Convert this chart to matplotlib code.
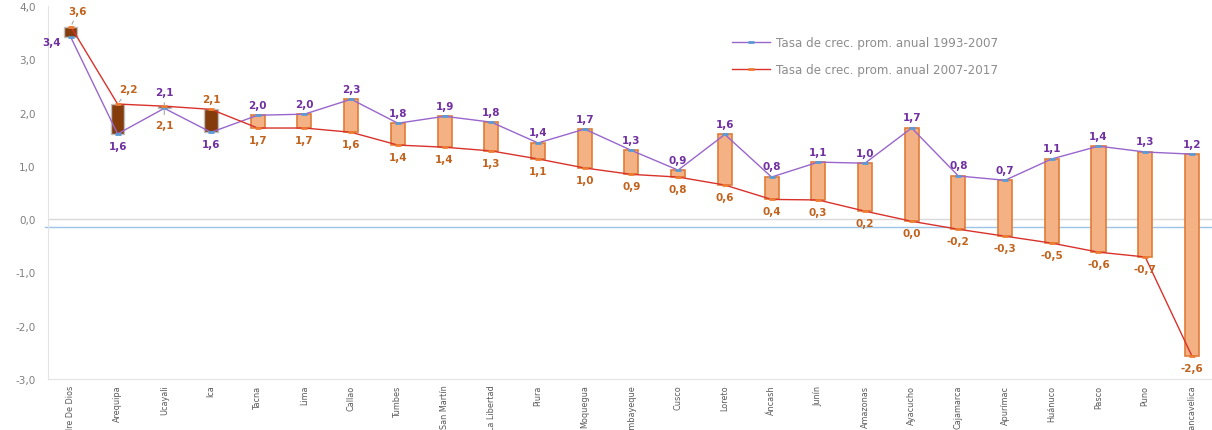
import matplotlib.pyplot as plt
import numpy as np

# datos
regiones = ['Madre De Dios', 'Arequipa', 'Ucayali', 'Ica', 'Tacna', 'Lima', 'Callao',
            'Tumbes', 'San Martín', 'La Libertad', 'Piura', 'Moquegua', 'Lambayeque',
            'Cusco', 'Loreto', 'Áncash', 'Junín', 'Amazonas', 'Ayacucho', 'Cajamarca',
            'Apurímac', 'Huánuco', 'Pasco', 'Puno', 'Huancavelica']
tasa_93_07 = [3.41, 1.60, 2.08, 1.63, 1.95, 1.97, 2.25, 1.80, 1.93, 1.82, 1.43, 1.69, 1.29,
              0.92, 1.59, 0.79, 1.07, 1.05, 1.71, 0.81, 0.73, 1.13, 1.37, 1.26, 1.22]
tasa_07_17 = [3.61, 2.16, 2.12, 2.06, 1.71, 1.71, 1.63, 1.39, 1.35, 1.28, 1.13, 0.96, 0.84,
              0.79, 0.64, 0.37, 0.36, 0.15, -0.04, -0.19, -0.32, -0.45, -0.62, -0.71, -2.57]
etq_93_07 = ['3,4', '1,6', '2,1', '1,6', '2,0', '2,0', '2,3', '1,8', '1,9', '1,8', '1,4', '1,7', '1,3',
             '0,9', '1,6', '0,8', '1,1', '1,0', '1,7', '0,8', '0,7', '1,1', '1,4', '1,3', '1,2']
etq_07_17 = ['3,6', '2,2', '2,1', '2,1', '1,7', '1,7', '1,6', '1,4', '1,4', '1,3', '1,1', '1,0', '0,9',
             '0,8', '0,6', '0,4', '0,3', '0,2', '0,0', '-0,2', '-0,3', '-0,5', '-0,6', '-0,7', '-2,6']

c_morado = '#9966CC'
c_rojo = '#D9322B'
c_txt_morado = '#7030A0'
c_txt_cafe = '#C0631E'

x = np.arange(len(regiones))
a = np.array(tasa_93_07)
b = np.array(tasa_07_17)

fig = plt.figure(figsize=(12.12, 4.31), dpi=100)
ax = fig.add_axes([48 / 1212, 1 - 380 / 431, 1 - 48 / 1212, (380 - 7) / 431])

# barras arriba/abajo
sube = b > a
for i in x:
    if sube[i]:
        ax.bar(i, b[i] - a[i], bottom=a[i], width=0.28, color='#843C0C',
               edgecolor='#BFBFBF', linewidth=1, zorder=2)
    else:
        ax.bar(i, b[i] - a[i], bottom=a[i], width=0.3, color='#F4B183',
               edgecolor='#E07B39', linewidth=1.2, zorder=2)

ax.plot(x, a, color=c_morado, lw=1, marker='_', ms=5, mec='#5B9BD5', mew=2,
        label='Tasa de crec. prom. anual 1993-2007', zorder=3)
ax.plot(x, b, color=c_rojo, lw=1, marker='_', ms=5, mec='#ED7D31', mew=2,
        label='Tasa de crec. prom. anual 2007-2017', zorder=3)

# etiquetas
especiales = {
    0: [((-7, -3), 'right', 'center', False), ((5, 8), 'center', 'bottom', True)],
    1: [((0, -5), 'center', 'top', False), ((8, 7), 'center', 'bottom', True)],
    2: [((0, 8), 'center', 'bottom', True), ((0, -10), 'center', 'top', True)],
}
for i in x:
    if i in especiales:
        (oa, ha_a, va_a, la), (ob, ha_b, va_b, lb) = especiales[i]
    else:
        arriba_a = a[i] >= b[i]
        oa = (0, 4) if arriba_a else (0, -5)
        va_a = 'bottom' if arriba_a else 'top'
        ob = (0, -5) if arriba_a else (0, 4)
        va_b = 'top' if arriba_a else 'bottom'
        ha_a = ha_b = 'center'
        la = lb = False
    ax.annotate(etq_93_07[i], (i, a[i]), xytext=oa, textcoords='offset points',
                ha=ha_a, va=va_a, color=c_txt_morado, fontsize=7.5, fontweight='bold',
                arrowprops=dict(arrowstyle='-', color='#A6A6A6', lw=0.8) if la else None, zorder=4)
    ax.annotate(etq_07_17[i], (i, b[i]), xytext=ob, textcoords='offset points',
                ha=ha_b, va=va_b, color=c_txt_cafe, fontsize=7.5, fontweight='bold',
                arrowprops=dict(arrowstyle='-', color='#A6A6A6', lw=0.8) if lb else None, zorder=4)

ax.axhline(0, color='#D9D9D9', lw=1, zorder=1)
ax.axhline(-0.15, xmin=-0.003, color='#9DC3E6', lw=1, clip_on=False, zorder=1)

ax.set_ylim(-3, 4)
ax.set_xlim(-0.49, 24.43)
ax.set_yticks(np.arange(-3, 4.5, 1))
ax.set_yticklabels([f'{v:.1f}'.replace('.', ',') for v in np.arange(-3, 4.5, 1)])
ax.set_xticks(x)
ax.set_xticklabels(regiones, rotation=90, va='top', ha='center',
                   family='DejaVu Sans', fontstretch='condensed')
ax.tick_params(axis='y', length=0, pad=9, labelsize=7.5, labelcolor='#7F7F7F')
ax.tick_params(axis='x', length=0, pad=4, labelsize=6.5, labelcolor='#595959')

for s in ['top', 'right']:
    ax.spines[s].set_visible(False)
for s in ['left', 'bottom']:
    ax.spines[s].set_color('#E3E3E3')

ax.legend(loc='upper left', bbox_to_anchor=(0.578, 0.948), frameon=False, fontsize=8.6,
          labelcolor='#8C8C8C', handlelength=3.2, handletextpad=0.5, labelspacing=1.2,
          markerscale=0.8)

fig.savefig('out.png', dpi=100)
